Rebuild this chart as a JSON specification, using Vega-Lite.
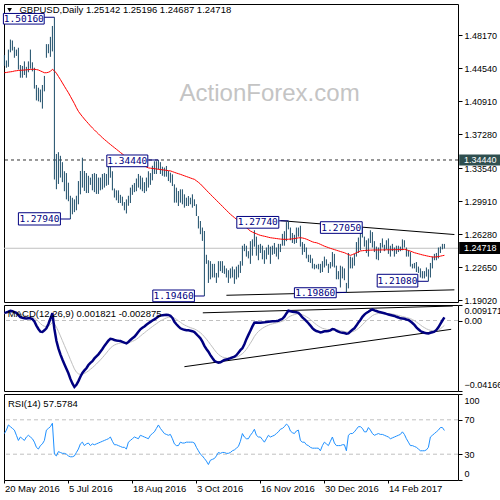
{
"$schema":"https://vega.github.io/schema/vega-lite/v6.json",
"padding":{"left":-2,"top":3,"right":0,"bottom":0},
"background":"white",
"spacing":3,
"bounds":"flush",
"config":{"view":{"stroke":"black","strokeWidth":1},"axis":{"labelFont":"Liberation Sans","labelFontSize":9,"labelColor":"black","tickColor":"black","domain":false,"grid":false}},
"datasets":{
"p":[
{"i":0,"h":1.46,"l":1.448,"m":1.4405,"d":0.0045,"s":0.0041,"r":54},
{"i":1,"h":1.454,"l":1.446,"m":1.4408,"d":0.0048,"s":0.0042,"r":58},
{"i":2,"h":1.466,"l":1.447,"m":1.4412,"d":0.0052,"s":0.0044,"r":64},
{"i":3,"h":1.477,"l":1.463,"m":1.4415,"d":0.0058,"s":0.0047,"r":62},
{"i":4,"h":1.476,"l":1.465,"m":1.4418,"d":0.0055,"s":0.0049,"r":60},
{"i":5,"h":1.469,"l":1.457,"m":1.4424,"d":0.005,"s":0.0049,"r":58},
{"i":6,"h":1.466,"l":1.459,"m":1.4427,"d":0.0045,"s":0.0048,"r":52},
{"i":7,"h":1.468,"l":1.444,"m":1.443,"d":0.0032,"s":0.0045,"r":46},
{"i":8,"h":1.449,"l":1.435,"m":1.4432,"d":0.002,"s":0.004,"r":50},
{"i":9,"h":1.448,"l":1.435,"m":1.4433,"d":0.0016,"s":0.0035,"r":48},
{"i":10,"h":1.453,"l":1.438,"m":1.4435,"d":0.0014,"s":0.0031,"r":46},
{"i":11,"h":1.447,"l":1.435,"m":1.4437,"d":0.0012,"s":0.0027,"r":50},
{"i":12,"h":1.453,"l":1.441,"m":1.4439,"d":0.0013,"s":0.0024,"r":52},
{"i":13,"h":1.466,"l":1.445,"m":1.4441,"d":0.0013,"s":0.0022,"r":50},
{"i":14,"h":1.452,"l":1.442,"m":1.4443,"d":0.0008,"s":0.0019,"r":48},
{"i":15,"h":1.446,"l":1.423,"m":1.4443,"d":-0.0005,"s":0.0014,"r":44},
{"i":16,"h":1.427,"l":1.41,"m":1.444,"d":-0.003,"s":0.0006,"r":38},
{"i":17,"h":1.424,"l":1.409,"m":1.4435,"d":-0.005,"s":-0.0006,"r":36},
{"i":18,"h":1.422,"l":1.408,"m":1.4425,"d":-0.0066,"s":-0.0018,"r":40},
{"i":19,"h":1.427,"l":1.401,"m":1.4415,"d":-0.0068,"s":-0.0028,"r":42},
{"i":20,"h":1.437,"l":1.42,"m":1.4405,"d":-0.0058,"s":-0.0034,"r":46},
{"i":21,"h":1.472,"l":1.457,"m":1.4405,"d":-0.0046,"s":-0.0036,"r":58},
{"i":22,"h":1.472,"l":1.462,"m":1.441,"d":-0.002,"s":-0.0033,"r":60},
{"i":23,"h":1.48,"l":1.458,"m":1.442,"d":0.001,"s":-0.0024,"r":62},
{"i":24,"h":1.492,"l":1.464,"m":1.4443,"d":0.0043,"s":-0.0011,"r":66},
{"i":25,"h":1.5016,"l":1.3229,"m":1.4425,"d":-0.005,"s":-0.0019,"r":30},
{"i":26,"h":1.351,"l":1.3122,"m":1.44,"d":-0.012,"s":-0.0039,"r":28},
{"i":27,"h":1.353,"l":1.318,"m":1.4365,"d":-0.0165,"s":-0.0064,"r":33},
{"i":28,"h":1.349,"l":1.325,"m":1.433,"d":-0.02,"s":-0.0091,"r":32},
{"i":29,"h":1.342,"l":1.32,"m":1.4293,"d":-0.023,"s":-0.0119,"r":31},
{"i":30,"h":1.332,"l":1.31,"m":1.4256,"d":-0.0258,"s":-0.0147,"r":31},
{"i":31,"h":1.33,"l":1.301,"m":1.422,"d":-0.0285,"s":-0.0175,"r":30},
{"i":32,"h":1.3194,"l":1.299,"m":1.4185,"d":-0.0312,"s":-0.0202,"r":28},
{"i":33,"h":1.305,"l":1.2794,"m":1.4145,"d":-0.0345,"s":-0.0231,"r":27},
{"i":34,"h":1.3028,"l":1.2846,"m":1.4105,"d":-0.0372,"s":-0.0259,"r":27},
{"i":35,"h":1.301,"l":1.287,"m":1.4065,"d":-0.0393,"s":-0.0286,"r":28},
{"i":36,"h":1.305,"l":1.289,"m":1.402,"d":-0.038,"s":-0.0305,"r":32},
{"i":37,"h":1.3212,"l":1.2956,"m":1.398,"d":-0.0358,"s":-0.0315,"r":36},
{"i":38,"h":1.3323,"l":1.3066,"m":1.395,"d":-0.0332,"s":-0.0319,"r":42},
{"i":39,"h":1.3469,"l":1.314,"m":1.3922,"d":-0.031,"s":-0.0317,"r":44},
{"i":40,"h":1.3323,"l":1.3103,"m":1.3895,"d":-0.0295,"s":-0.0313,"r":40},
{"i":41,"h":1.33,"l":1.308,"m":1.387,"d":-0.0282,"s":-0.0306,"r":42},
{"i":42,"h":1.327,"l":1.308,"m":1.3845,"d":-0.0263,"s":-0.0298,"r":43},
{"i":43,"h":1.325,"l":1.317,"m":1.382,"d":-0.025,"s":-0.0288,"r":40},
{"i":44,"h":1.329,"l":1.311,"m":1.3797,"d":-0.024,"s":-0.0279,"r":42},
{"i":45,"h":1.33,"l":1.309,"m":1.3775,"d":-0.0224,"s":-0.0268,"r":41},
{"i":46,"h":1.329,"l":1.307,"m":1.3753,"d":-0.0212,"s":-0.0257,"r":42},
{"i":47,"h":1.325,"l":1.307,"m":1.3732,"d":-0.02,"s":-0.0245,"r":43},
{"i":48,"h":1.325,"l":1.311,"m":1.371,"d":-0.0184,"s":-0.0233,"r":44},
{"i":49,"h":1.329,"l":1.312,"m":1.369,"d":-0.0168,"s":-0.022,"r":45},
{"i":50,"h":1.33,"l":1.314,"m":1.367,"d":-0.015,"s":-0.0206,"r":46},
{"i":51,"h":1.329,"l":1.316,"m":1.3652,"d":-0.0135,"s":-0.0192,"r":47},
{"i":52,"h":1.338,"l":1.317,"m":1.3633,"d":-0.0119,"s":-0.0177,"r":48},
{"i":53,"h":1.3396,"l":1.3249,"m":1.3615,"d":-0.0108,"s":-0.0163,"r":50},
{"i":54,"h":1.332,"l":1.311,"m":1.3597,"d":-0.011,"s":-0.0153,"r":45},
{"i":55,"h":1.313,"l":1.303,"m":1.358,"d":-0.0115,"s":-0.0145,"r":41},
{"i":56,"h":1.311,"l":1.3,"m":1.3562,"d":-0.0118,"s":-0.014,"r":41},
{"i":57,"h":1.311,"l":1.297,"m":1.3545,"d":-0.012,"s":-0.0136,"r":40},
{"i":58,"h":1.306,"l":1.297,"m":1.3527,"d":-0.0121,"s":-0.0133,"r":39},
{"i":59,"h":1.304,"l":1.294,"m":1.351,"d":-0.0126,"s":-0.0132,"r":38},
{"i":60,"h":1.298,"l":1.289,"m":1.349,"d":-0.0131,"s":-0.0131,"r":38},
{"i":61,"h":1.301,"l":1.2855,"m":1.3477,"d":-0.0135,"s":-0.0132,"r":36},
{"i":62,"h":1.305,"l":1.294,"m":1.3466,"d":-0.0127,"s":-0.0131,"r":44},
{"i":63,"h":1.314,"l":1.297,"m":1.3455,"d":-0.0115,"s":-0.0128,"r":46},
{"i":64,"h":1.317,"l":1.306,"m":1.3444,"d":-0.0105,"s":-0.0123,"r":48},
{"i":65,"h":1.319,"l":1.309,"m":1.3433,"d":-0.0096,"s":-0.0118,"r":50},
{"i":66,"h":1.324,"l":1.31,"m":1.3422,"d":-0.0082,"s":-0.0111,"r":49},
{"i":67,"h":1.329,"l":1.314,"m":1.3411,"d":-0.0067,"s":-0.0102,"r":48},
{"i":68,"h":1.327,"l":1.312,"m":1.34,"d":-0.0052,"s":-0.0092,"r":52},
{"i":69,"h":1.325,"l":1.31,"m":1.339,"d":-0.0043,"s":-0.0082,"r":51},
{"i":70,"h":1.32,"l":1.308,"m":1.3378,"d":-0.0035,"s":-0.0073,"r":50},
{"i":71,"h":1.325,"l":1.31,"m":1.3367,"d":-0.0025,"s":-0.0063,"r":49},
{"i":72,"h":1.332,"l":1.314,"m":1.3357,"d":-0.0016,"s":-0.0054,"r":48},
{"i":73,"h":1.33,"l":1.317,"m":1.3354,"d":-0.0008,"s":-0.0045,"r":52},
{"i":74,"h":1.338,"l":1.322,"m":1.3351,"d":0.0,"s":-0.0036,"r":54},
{"i":75,"h":1.343,"l":1.329,"m":1.3348,"d":0.0007,"s":-0.0027,"r":56},
{"i":76,"h":1.343,"l":1.329,"m":1.3345,"d":0.0015,"s":-0.0019,"r":60},
{"i":77,"h":1.3444,"l":1.334,"m":1.3342,"d":0.0024,"s":-0.001,"r":64},
{"i":78,"h":1.342,"l":1.329,"m":1.3339,"d":0.0029,"s":-0.0002,"r":60},
{"i":79,"h":1.337,"l":1.327,"m":1.3336,"d":0.0031,"s":0.0004,"r":57},
{"i":80,"h":1.336,"l":1.326,"m":1.3333,"d":0.0033,"s":0.001,"r":54},
{"i":81,"h":1.3378,"l":1.326,"m":1.333,"d":0.0034,"s":0.0015,"r":53},
{"i":82,"h":1.3323,"l":1.3212,"m":1.3327,"d":0.0033,"s":0.0019,"r":52},
{"i":83,"h":1.3304,"l":1.3194,"m":1.3324,"d":0.0028,"s":0.002,"r":53},
{"i":84,"h":1.3286,"l":1.3157,"m":1.3316,"d":0.0015,"s":0.0019,"r":48},
{"i":85,"h":1.3176,"l":1.2974,"m":1.3308,"d":-0.0007,"s":0.0014,"r":42},
{"i":86,"h":1.3139,"l":1.2974,"m":1.33,"d":-0.0022,"s":0.0007,"r":40},
{"i":87,"h":1.3102,"l":1.2937,"m":1.3293,"d":-0.0035,"s":-0.0002,"r":40},
{"i":88,"h":1.3121,"l":1.2974,"m":1.3286,"d":-0.0046,"s":-0.001,"r":44},
{"i":89,"h":1.3121,"l":1.2956,"m":1.3278,"d":-0.0051,"s":-0.0019,"r":43},
{"i":90,"h":1.3066,"l":1.2919,"m":1.327,"d":-0.0055,"s":-0.0026,"r":43},
{"i":91,"h":1.3029,"l":1.2937,"m":1.3262,"d":-0.0057,"s":-0.0032,"r":44},
{"i":92,"h":1.3047,"l":1.2937,"m":1.3254,"d":-0.0058,"s":-0.0037,"r":44},
{"i":93,"h":1.3029,"l":1.2956,"m":1.3246,"d":-0.006,"s":-0.0042,"r":44},
{"i":94,"h":1.3066,"l":1.2919,"m":1.3238,"d":-0.0063,"s":-0.0046,"r":44},
{"i":95,"h":1.3011,"l":1.2937,"m":1.3231,"d":-0.0068,"s":-0.005,"r":43},
{"i":96,"h":1.2957,"l":1.2827,"m":1.3215,"d":-0.008,"s":-0.0056,"r":38},
{"i":97,"h":1.2826,"l":1.269,"m":1.3198,"d":-0.0093,"s":-0.0064,"r":34},
{"i":98,"h":1.2772,"l":1.2627,"m":1.318,"d":-0.0105,"s":-0.0072,"r":30},
{"i":99,"h":1.27,"l":1.2553,"m":1.3157,"d":-0.0125,"s":-0.0083,"r":28},
{"i":100,"h":1.2662,"l":1.1946,"m":1.3134,"d":-0.015,"s":-0.0096,"r":25},
{"i":101,"h":1.24,"l":1.23,"m":1.3111,"d":-0.0168,"s":-0.011,"r":22},
{"i":102,"h":1.234,"l":1.209,"m":1.3088,"d":-0.0184,"s":-0.0125,"r":18},
{"i":103,"h":1.233,"l":1.213,"m":1.3066,"d":-0.0205,"s":-0.0141,"r":23},
{"i":104,"h":1.23,"l":1.215,"m":1.3044,"d":-0.0222,"s":-0.0157,"r":24},
{"i":105,"h":1.23,"l":1.215,"m":1.3022,"d":-0.0238,"s":-0.0173,"r":25},
{"i":106,"h":1.22,"l":1.209,"m":1.3,"d":-0.0245,"s":-0.0188,"r":28},
{"i":107,"h":1.233,"l":1.215,"m":1.2978,"d":-0.0249,"s":-0.02,"r":32},
{"i":108,"h":1.233,"l":1.222,"m":1.2956,"d":-0.0247,"s":-0.0209,"r":31},
{"i":109,"h":1.233,"l":1.22,"m":1.2934,"d":-0.024,"s":-0.0216,"r":32},
{"i":110,"h":1.228,"l":1.219,"m":1.2912,"d":-0.0233,"s":-0.0219,"r":32},
{"i":111,"h":1.225,"l":1.215,"m":1.289,"d":-0.023,"s":-0.0221,"r":31},
{"i":112,"h":1.223,"l":1.209,"m":1.2868,"d":-0.0227,"s":-0.0222,"r":31},
{"i":113,"h":1.225,"l":1.214,"m":1.2846,"d":-0.0223,"s":-0.0223,"r":32},
{"i":114,"h":1.227,"l":1.215,"m":1.2828,"d":-0.0218,"s":-0.0222,"r":34},
{"i":115,"h":1.224,"l":1.208,"m":1.281,"d":-0.0214,"s":-0.022,"r":35},
{"i":116,"h":1.227,"l":1.213,"m":1.2792,"d":-0.0205,"s":-0.0217,"r":37},
{"i":117,"h":1.229,"l":1.215,"m":1.2773,"d":-0.019,"s":-0.0212,"r":39},
{"i":118,"h":1.233,"l":1.22,"m":1.2754,"d":-0.0175,"s":-0.0204,"r":45},
{"i":119,"h":1.25,"l":1.228,"m":1.2736,"d":-0.0164,"s":-0.0196,"r":54},
{"i":120,"h":1.252,"l":1.244,"m":1.2717,"d":-0.014,"s":-0.0185,"r":50},
{"i":121,"h":1.25,"l":1.238,"m":1.2699,"d":-0.011,"s":-0.017,"r":48},
{"i":122,"h":1.244,"l":1.236,"m":1.268,"d":-0.0085,"s":-0.0153,"r":48},
{"i":123,"h":1.255,"l":1.23,"m":1.2662,"d":-0.006,"s":-0.0134,"r":52},
{"i":124,"h":1.257,"l":1.239,"m":1.265,"d":-0.0035,"s":-0.0115,"r":55},
{"i":125,"h":1.267,"l":1.249,"m":1.264,"d":-0.0013,"s":-0.0094,"r":59},
{"i":126,"h":1.26,"l":1.239,"m":1.2632,"d":-0.0012,"s":-0.0078,"r":52},
{"i":127,"h":1.251,"l":1.234,"m":1.2622,"d":-0.0013,"s":-0.0065,"r":50},
{"i":128,"h":1.252,"l":1.242,"m":1.2614,"d":-0.0013,"s":-0.0055,"r":50},
{"i":129,"h":1.25,"l":1.235,"m":1.2609,"d":-0.0012,"s":-0.0046,"r":47},
{"i":130,"h":1.245,"l":1.23,"m":1.2604,"d":-0.0011,"s":-0.0039,"r":44},
{"i":131,"h":1.248,"l":1.235,"m":1.2599,"d":-0.0009,"s":-0.0033,"r":48},
{"i":132,"h":1.251,"l":1.24,"m":1.2593,"d":-0.0007,"s":-0.0028,"r":52},
{"i":133,"h":1.249,"l":1.23,"m":1.2588,"d":-0.0006,"s":-0.0023,"r":50},
{"i":134,"h":1.25,"l":1.24,"m":1.2585,"d":-0.0005,"s":-0.002,"r":51},
{"i":135,"h":1.253,"l":1.241,"m":1.2582,"d":-0.0004,"s":-0.0017,"r":52},
{"i":136,"h":1.248,"l":1.238,"m":1.2579,"d":-0.0003,"s":-0.0014,"r":54},
{"i":137,"h":1.252,"l":1.235,"m":1.2576,"d":-0.0001,"s":-0.0011,"r":56},
{"i":138,"h":1.252,"l":1.243,"m":1.2573,"d":0.0005,"s":-0.0008,"r":59},
{"i":139,"h":1.263,"l":1.25,"m":1.2571,"d":0.001,"s":-0.0004,"r":60},
{"i":140,"h":1.266,"l":1.25,"m":1.257,"d":0.0023,"s":0.0001,"r":62},
{"i":141,"h":1.276,"l":1.255,"m":1.257,"d":0.0042,"s":0.0009,"r":65},
{"i":142,"h":1.2774,"l":1.268,"m":1.2571,"d":0.0058,"s":0.0019,"r":63},
{"i":143,"h":1.27,"l":1.256,"m":1.2573,"d":0.0055,"s":0.0026,"r":57},
{"i":144,"h":1.264,"l":1.253,"m":1.2575,"d":0.0052,"s":0.0031,"r":55},
{"i":145,"h":1.262,"l":1.252,"m":1.2578,"d":0.005,"s":0.0035,"r":54},
{"i":146,"h":1.27,"l":1.253,"m":1.2582,"d":0.0049,"s":0.0038,"r":57},
{"i":147,"h":1.27,"l":1.26,"m":1.2586,"d":0.0045,"s":0.0039,"r":58},
{"i":148,"h":1.272,"l":1.249,"m":1.2588,"d":0.0033,"s":0.0038,"r":46},
{"i":149,"h":1.254,"l":1.24,"m":1.2585,"d":0.0018,"s":0.0034,"r":44},
{"i":150,"h":1.252,"l":1.243,"m":1.258,"d":0.0008,"s":0.0029,"r":44},
{"i":151,"h":1.248,"l":1.236,"m":1.2572,"d":-0.0004,"s":0.0022,"r":41},
{"i":152,"h":1.24,"l":1.232,"m":1.2563,"d":-0.0016,"s":0.0015,"r":40},
{"i":153,"h":1.24,"l":1.231,"m":1.2553,"d":-0.003,"s":0.0006,"r":38},
{"i":154,"h":1.236,"l":1.225,"m":1.2543,"d":-0.0045,"s":-0.0004,"r":37},
{"i":155,"h":1.23,"l":1.224,"m":1.2536,"d":-0.0056,"s":-0.0015,"r":37},
{"i":156,"h":1.229,"l":1.225,"m":1.2533,"d":-0.0062,"s":-0.0024,"r":37},
{"i":157,"h":1.23,"l":1.224,"m":1.2525,"d":-0.0066,"s":-0.0033,"r":37},
{"i":158,"h":1.23,"l":1.22,"m":1.2515,"d":-0.007,"s":-0.004,"r":34},
{"i":159,"h":1.233,"l":1.221,"m":1.2505,"d":-0.0068,"s":-0.0046,"r":40},
{"i":160,"h":1.238,"l":1.226,"m":1.2495,"d":-0.0064,"s":-0.0049,"r":44},
{"i":161,"h":1.235,"l":1.228,"m":1.2487,"d":-0.0063,"s":-0.0052,"r":42},
{"i":162,"h":1.23,"l":1.22,"m":1.2479,"d":-0.0062,"s":-0.0054,"r":40},
{"i":163,"h":1.232,"l":1.225,"m":1.2471,"d":-0.0058,"s":-0.0055,"r":45},
{"i":164,"h":1.243,"l":1.227,"m":1.2464,"d":-0.005,"s":-0.0054,"r":50},
{"i":165,"h":1.241,"l":1.226,"m":1.2457,"d":-0.0052,"s":-0.0054,"r":43},
{"i":166,"h":1.228,"l":1.213,"m":1.245,"d":-0.006,"s":-0.0055,"r":40},
{"i":167,"h":1.222,"l":1.213,"m":1.2443,"d":-0.0066,"s":-0.0057,"r":40},
{"i":168,"h":1.228,"l":1.204,"m":1.2436,"d":-0.007,"s":-0.006,"r":40},
{"i":169,"h":1.227,"l":1.214,"m":1.2429,"d":-0.0072,"s":-0.0062,"r":41},
{"i":170,"h":1.225,"l":1.212,"m":1.2423,"d":-0.0074,"s":-0.0065,"r":41},
{"i":171,"h":1.209,"l":1.1986,"m":1.2413,"d":-0.0078,"s":-0.0067,"r":34},
{"i":172,"h":1.242,"l":1.203,"m":1.2403,"d":-0.0076,"s":-0.0069,"r":52},
{"i":173,"h":1.238,"l":1.225,"m":1.2394,"d":-0.0065,"s":-0.0068,"r":54},
{"i":174,"h":1.237,"l":1.225,"m":1.2402,"d":-0.0055,"s":-0.0066,"r":54},
{"i":175,"h":1.241,"l":1.228,"m":1.2412,"d":-0.0046,"s":-0.0062,"r":56},
{"i":176,"h":1.254,"l":1.238,"m":1.2422,"d":-0.003,"s":-0.0055,"r":59},
{"i":177,"h":1.259,"l":1.242,"m":1.2432,"d":-0.0012,"s":-0.0047,"r":62},
{"i":178,"h":1.268,"l":1.245,"m":1.2442,"d":0.0003,"s":-0.0037,"r":62},
{"i":179,"h":1.2705,"l":1.259,"m":1.2445,"d":0.0022,"s":-0.0025,"r":60},
{"i":180,"h":1.26,"l":1.249,"m":1.2447,"d":0.0035,"s":-0.0013,"r":56},
{"i":181,"h":1.256,"l":1.242,"m":1.2449,"d":0.0045,"s":-0.0001,"r":56},
{"i":182,"h":1.258,"l":1.238,"m":1.245,"d":0.0052,"s":0.0009,"r":61},
{"i":183,"h":1.267,"l":1.253,"m":1.2451,"d":0.006,"s":0.0019,"r":58},
{"i":184,"h":1.265,"l":1.248,"m":1.2452,"d":0.0066,"s":0.0029,"r":54},
{"i":185,"h":1.255,"l":1.243,"m":1.2453,"d":0.006,"s":0.0035,"r":52},
{"i":186,"h":1.249,"l":1.235,"m":1.2453,"d":0.0056,"s":0.0039,"r":53},
{"i":187,"h":1.248,"l":1.234,"m":1.2453,"d":0.0052,"s":0.0042,"r":54},
{"i":188,"h":1.253,"l":1.242,"m":1.2453,"d":0.0049,"s":0.0043,"r":53},
{"i":189,"h":1.258,"l":1.248,"m":1.2454,"d":0.0046,"s":0.0044,"r":53},
{"i":190,"h":1.251,"l":1.244,"m":1.2454,"d":0.0043,"s":0.0044,"r":52},
{"i":191,"h":1.256,"l":1.246,"m":1.2455,"d":0.0039,"s":0.0043,"r":51},
{"i":192,"h":1.258,"l":1.241,"m":1.2455,"d":0.0036,"s":0.0041,"r":50},
{"i":193,"h":1.25,"l":1.238,"m":1.2455,"d":0.0033,"s":0.004,"r":48},
{"i":194,"h":1.252,"l":1.244,"m":1.2456,"d":0.003,"s":0.0038,"r":49},
{"i":195,"h":1.248,"l":1.238,"m":1.2456,"d":0.0027,"s":0.0036,"r":50},
{"i":196,"h":1.25,"l":1.241,"m":1.2456,"d":0.0022,"s":0.0033,"r":51},
{"i":197,"h":1.25,"l":1.243,"m":1.2457,"d":0.0018,"s":0.003,"r":52},
{"i":198,"h":1.249,"l":1.244,"m":1.2457,"d":0.0013,"s":0.0027,"r":53},
{"i":199,"h":1.257,"l":1.245,"m":1.2458,"d":0.0012,"s":0.0024,"r":56},
{"i":200,"h":1.256,"l":1.248,"m":1.246,"d":0.001,"s":0.0021,"r":53},
{"i":201,"h":1.248,"l":1.238,"m":1.2455,"d":0.0006,"s":0.0018,"r":48},
{"i":202,"h":1.245,"l":1.238,"m":1.2448,"d":0.0003,"s":0.0015,"r":44},
{"i":203,"h":1.243,"l":1.227,"m":1.244,"d":-0.0005,"s":0.0011,"r":40},
{"i":204,"h":1.23,"l":1.225,"m":1.2432,"d":-0.0015,"s":0.0006,"r":40},
{"i":205,"h":1.231,"l":1.225,"m":1.2423,"d":-0.0026,"s":-0.0001,"r":39},
{"i":206,"h":1.232,"l":1.221,"m":1.2417,"d":-0.004,"s":-0.0009,"r":38},
{"i":207,"h":1.227,"l":1.22,"m":1.2411,"d":-0.0052,"s":-0.0017,"r":36},
{"i":208,"h":1.225,"l":1.215,"m":1.2405,"d":-0.0062,"s":-0.0026,"r":34},
{"i":209,"h":1.222,"l":1.214,"m":1.2399,"d":-0.0068,"s":-0.0035,"r":34},
{"i":210,"h":1.222,"l":1.214,"m":1.2394,"d":-0.0072,"s":-0.0042,"r":34},
{"i":211,"h":1.226,"l":1.216,"m":1.2389,"d":-0.0075,"s":-0.0049,"r":35},
{"i":212,"h":1.224,"l":1.2108,"m":1.2384,"d":-0.0076,"s":-0.0054,"r":38},
{"i":213,"h":1.231,"l":1.215,"m":1.238,"d":-0.0072,"s":-0.0058,"r":50},
{"i":214,"h":1.238,"l":1.225,"m":1.2376,"d":-0.0069,"s":-0.006,"r":52},
{"i":215,"h":1.241,"l":1.234,"m":1.2375,"d":-0.0066,"s":-0.0061,"r":54},
{"i":216,"h":1.242,"l":1.234,"m":1.2377,"d":-0.0056,"s":-0.006,"r":56},
{"i":217,"h":1.248,"l":1.236,"m":1.238,"d":-0.004,"s":-0.0056,"r":58},
{"i":218,"h":1.249,"l":1.242,"m":1.2385,"d":-0.002,"s":-0.0049,"r":61},
{"i":219,"h":1.252,"l":1.246,"m":1.239,"d":0.0,"s":-0.0039,"r":61},
{"i":220,"h":1.25196,"l":1.24687,"m":1.2394,"d":0.001821,"s":-0.002875,"r":57.58}
],
"boxes":[
{"t":"1.50160","x1":-0.5,"x2":19.9,"y1":1.4941,"y2":1.5058,"cx":9.7,"cy":1.4999,"bx":25,"p":1.5016},
{"t":"1.27940","x1":7.0,"x2":28.0,"y1":1.2728,"y2":1.2863,"cx":17.5,"cy":1.2795,"bx":33,"p":1.2794},
{"t":"1.34440","x1":51.2,"x2":71.7,"y1":1.337,"y2":1.3499,"cx":61.45,"cy":1.3434,"bx":77,"p":1.3444},
{"t":"1.27740","x1":116.2,"x2":137.2,"y1":1.2693,"y2":1.2822,"cx":126.7,"cy":1.2757,"bx":142,"p":1.2774},
{"t":"1.27050","x1":158.0,"x2":178.9,"y1":1.2636,"y2":1.2764,"cx":168.45,"cy":1.27,"bx":179,"p":1.2705},
{"t":"1.19460","x1":74.2,"x2":95.0,"y1":1.1883,"y2":1.2012,"cx":84.6,"cy":1.1947,"bx":100,"p":1.1946},
{"t":"1.19860","x1":145.0,"x2":165.9,"y1":1.1927,"y2":1.2037,"cx":155.45,"cy":1.1982,"bx":171,"p":1.1986},
{"t":"1.21080","x1":186.4,"x2":206.7,"y1":1.2045,"y2":1.2185,"cx":196.55,"cy":1.2115,"bx":212,"p":1.2108}
],
"tl":[{"x1":138,"y1":1.2776,"x2":225,"y2":1.2623},{"x1":111,"y1":1.1954,"x2":225,"y2":1.2014}],
"mtl":[{"x1":99.2,"y1":0.00455,"x2":224.2,"y2":0.00857},{"x1":90,"y1":-0.0273,"x2":223.4,"y2":-0.0052}],
"rbox":[{"t":"1.34440","y1":1.3383,"y2":1.3504,"p":1.3444,"c":"#2f4f4f"},{"t":"1.24718","y1":1.2409,"y2":1.2541,"p":1.24718,"c":"#000000"}]
},
"vconcat":[
{
"width":454,"height":298,
"data":{"name":"p"},
"resolve":{"axis":{"x":"independent","y":"independent"}},
"layer":[
{"data":{"values":[{"t":"ActionForex.com"}]},"mark":{"type":"text","font":"Liberation Sans","fontSize":24,"color":"#c4c4c4","align":"center","baseline":"alphabetic"},
 "encoding":{"x":{"datum":132.6,"type":"quantitative","scale":{"domain":[-0.2,226.8],"nice":false,"zero":false},"axis":null},"y":{"datum":1.4094,"type":"quantitative","scale":{"domain":[1.188,1.5162],"nice":false,"zero":false},"axis":null},"text":{"field":"t"}}},
{"data":{"values":[{}]},"mark":{"type":"rule","color":"#333333","strokeDash":[3,3],"strokeWidth":1},
 "encoding":{"y":{"datum":1.3444,"type":"quantitative","scale":{"domain":[1.188,1.5162],"nice":false,"zero":false},"axis":null}}},
{"data":{"values":[{}]},"mark":{"type":"rule","color":"#c0c0c0","strokeWidth":1},
 "encoding":{"y":{"datum":1.24718,"type":"quantitative","scale":{"domain":[1.188,1.5162],"nice":false,"zero":false},"axis":null}}},
{"data":{"name":"tl"},"mark":{"type":"rule","color":"black","strokeWidth":1},
 "encoding":{"x":{"field":"x1","type":"quantitative","scale":{"domain":[-0.2,226.8],"nice":false,"zero":false},"axis":null},"x2":{"field":"x2"},"y":{"field":"y1","type":"quantitative","scale":{"domain":[1.188,1.5162],"nice":false,"zero":false},"axis":null},"y2":{"field":"y2"}}},
{"mark":{"type":"rule","color":"#1b4b67","strokeWidth":1},
 "encoding":{"x":{"field":"i","type":"quantitative","scale":{"domain":[-0.2,226.8],"nice":false,"zero":false},"axis":null},
  "y":{"field":"h","type":"quantitative","scale":{"domain":[1.188,1.5162],"nice":false,"zero":false},
   "axis":{"orient":"right","values":[1.1902,1.2265,1.2628,1.2991,1.3354,1.3728,1.4091,1.4454,1.4817],"format":".5f","tickSize":4,"labelPadding":2,"labelFontSize":9,"labelFont":"Liberation Sans","labelColor":"black","tickColor":"black","domain":false,"grid":false,"title":null,"labelOverlap":false}},
  "y2":{"field":"l"}}},
{"mark":{"type":"line","color":"#ff0000","strokeWidth":1},
 "encoding":{"x":{"field":"i","type":"quantitative","scale":{"domain":[-0.2,226.8],"nice":false,"zero":false},"axis":null},"y":{"field":"m","type":"quantitative","scale":{"domain":[1.188,1.5162],"nice":false,"zero":false},"axis":null}}},
{"data":{"name":"boxes"},"mark":{"type":"rule","color":"#000080","strokeWidth":1,"clip":false},
 "encoding":{"x":{"field":"x2","type":"quantitative","scale":{"domain":[-0.2,226.8],"nice":false,"zero":false},"axis":null},"x2":{"field":"bx"},"y":{"field":"p","type":"quantitative","scale":{"domain":[1.188,1.5162],"nice":false,"zero":false},"axis":null}}},
{"data":{"name":"boxes"},"mark":{"type":"rect","fill":"white","stroke":"#000080","strokeWidth":1,"clip":false},
 "encoding":{"x":{"field":"x1","type":"quantitative","scale":{"domain":[-0.2,226.8],"nice":false,"zero":false},"axis":null},"x2":{"field":"x2"},"y":{"field":"y1","type":"quantitative","scale":{"domain":[1.188,1.5162],"nice":false,"zero":false},"axis":null},"y2":{"field":"y2"}}},
{"data":{"name":"boxes"},"mark":{"type":"text","font":"DejaVu Sans Mono","fontSize":9.5,"color":"#000080","align":"center","baseline":"middle","clip":false},
 "encoding":{"x":{"field":"cx","type":"quantitative","scale":{"domain":[-0.2,226.8],"nice":false,"zero":false},"axis":null},"y":{"field":"cy","type":"quantitative","scale":{"domain":[1.188,1.5162],"nice":false,"zero":false},"axis":null},"text":{"field":"t"}}},
{"data":{"values":[{}]},"mark":{"type":"point","shape":"triangle-down","filled":true,"color":"black","size":22,"opacity":1},
 "encoding":{"x":{"datum":2.6,"type":"quantitative","scale":{"domain":[-0.2,226.8],"nice":false,"zero":false},"axis":null},"y":{"datum":1.5095,"type":"quantitative","scale":{"domain":[1.188,1.5162],"nice":false,"zero":false},"axis":null}}},
{"data":{"values":[{"t":"GBPUSD,Daily  1.25142 1.25196 1.24687 1.24718"}]},"mark":{"type":"text","font":"Liberation Sans","fontSize":9.5,"color":"black","align":"left","baseline":"middle"},
 "encoding":{"x":{"datum":7.5,"type":"quantitative","scale":{"domain":[-0.2,226.8],"nice":false,"zero":false},"axis":null},"y":{"datum":1.5092,"type":"quantitative","scale":{"domain":[1.188,1.5162],"nice":false,"zero":false},"axis":null},"text":{"field":"t"}}},
{"data":{"name":"rbox"},"mark":{"type":"rect","clip":false},
 "encoding":{"x":{"datum":227.4,"type":"quantitative","scale":{"domain":[-0.2,226.8],"nice":false,"zero":false},"axis":null},"x2":{"datum":250},"y":{"field":"y1","type":"quantitative","scale":{"domain":[1.188,1.5162],"nice":false,"zero":false},"axis":null},"y2":{"field":"y2"},"fill":{"field":"c","type":"nominal","scale":null}}},
{"data":{"name":"rbox"},"mark":{"type":"text","font":"Liberation Sans","fontSize":9,"color":"white","align":"left","baseline":"middle","clip":false},
 "encoding":{"x":{"datum":229.8,"type":"quantitative","scale":{"domain":[-0.2,226.8],"nice":false,"zero":false},"axis":null},"y":{"field":"p","type":"quantitative","scale":{"domain":[1.188,1.5162],"nice":false,"zero":false},"axis":null},"text":{"field":"t"}}}
]
},
{
"width":454,"height":86,
"data":{"name":"p"},
"resolve":{"axis":{"x":"independent","y":"independent"}},
"layer":[
{"data":{"values":[{}]},"mark":{"type":"rule","color":"#c0c0c0","strokeDash":[4,3],"strokeWidth":1},
 "encoding":{"y":{"datum":0,"type":"quantitative","scale":{"domain":[-0.041663,0.009171],"nice":false,"zero":false},"axis":null}}},
{"data":{"name":"mtl"},"mark":{"type":"rule","color":"black","strokeWidth":1},
 "encoding":{"x":{"field":"x1","type":"quantitative","scale":{"domain":[-0.2,226.8],"nice":false,"zero":false},"axis":null},"x2":{"field":"x2"},"y":{"field":"y1","type":"quantitative","scale":{"domain":[-0.041663,0.009171],"nice":false,"zero":false},"axis":null},"y2":{"field":"y2"}}},
{"mark":{"type":"line","color":"#c0c0c0","strokeWidth":1},
 "encoding":{"x":{"field":"i","type":"quantitative","scale":{"domain":[-0.2,226.8],"nice":false,"zero":false},"axis":null},"y":{"field":"s","type":"quantitative","scale":{"domain":[-0.041663,0.009171],"nice":false,"zero":false},"axis":null}}},
{"mark":{"type":"line","color":"#000080","strokeWidth":2.5},
 "encoding":{"x":{"field":"i","type":"quantitative","scale":{"domain":[-0.2,226.8],"nice":false,"zero":false},"axis":null},
  "y":{"field":"d","type":"quantitative","scale":{"domain":[-0.041663,0.009171],"nice":false,"zero":false},
   "axis":{"orient":"right","values":[0.009171,0,-0.041663],"labelExpr":"datum.value === 0 ? '0.00' : format(datum.value, '.6f')","labelFlush":true,"labelFlushOffset":-1.5,"tickSize":4,"labelPadding":2,"labelFontSize":9,"labelFont":"Liberation Sans","labelColor":"black","tickColor":"black","domain":false,"grid":false,"title":null,"labelOverlap":false}}}},
{"data":{"values":[{"t":"MACD(12,26,9) 0.001821 -0.002875"}]},"mark":{"type":"text","font":"Liberation Sans","fontSize":9.5,"color":"black","align":"left","baseline":"middle"},
 "encoding":{"x":{"datum":1.7,"type":"quantitative","scale":{"domain":[-0.2,226.8],"nice":false,"zero":false},"axis":null},"y":{"datum":0.00356,"type":"quantitative","scale":{"domain":[-0.041663,0.009171],"nice":false,"zero":false},"axis":null},"text":{"field":"t"}}}
]
},
{
"width":454,"height":86,
"data":{"name":"p"},
"resolve":{"axis":{"x":"independent","y":"independent"}},
"layer":[
{"data":{"values":[{"v":30},{"v":70}]},"mark":{"type":"rule","color":"#c0c0c0","strokeDash":[4,3],"strokeWidth":1},
 "encoding":{"y":{"field":"v","type":"quantitative","scale":{"domain":[0,100],"nice":false,"zero":false},"axis":null}}},
{"mark":{"type":"line","color":"#1e90ff","strokeWidth":1},
 "encoding":{"x":{"field":"i","type":"quantitative","scale":{"domain":[-0.2,226.8],"nice":false,"zero":false},
   "axis":{"orient":"bottom","values":[0,32,64,96,128,160,192],"labelExpr":"['20 May 2016','5 Jul 2016','18 Aug 2016','3 Oct 2016','16 Nov 2016','30 Dec 2016','14 Feb 2017'][round(datum.value/32)]","labelAlign":"left","labelFlush":false,"labelOverlap":false,"labelFontSize":9.5,"labelFont":"Liberation Sans","labelColor":"black","tickColor":"black","tickSize":3,"labelPadding":0,"domain":false,"grid":false,"title":null}},
  "y":{"field":"r","type":"quantitative","scale":{"domain":[0,100],"nice":false,"zero":false},
   "axis":{"orient":"right","values":[0,30,70,100],"format":"d","labelFlush":true,"labelFlushOffset":-2,"tickSize":4,"labelPadding":2,"labelFontSize":9,"labelFont":"Liberation Sans","labelColor":"black","tickColor":"black","domain":false,"grid":false,"title":null,"labelOverlap":false}}}},
{"data":{"values":[{"t":"RSI(14) 57.5784"}]},"mark":{"type":"text","font":"Liberation Sans","fontSize":9.5,"color":"black","align":"left","baseline":"middle"},
 "encoding":{"x":{"datum":1.8,"type":"quantitative","scale":{"domain":[-0.2,226.8],"nice":false,"zero":false},"axis":null},"y":{"datum":88.4,"type":"quantitative","scale":{"domain":[0,100],"nice":false,"zero":false},"axis":null},"text":{"field":"t"}}}
]
}
]
}
